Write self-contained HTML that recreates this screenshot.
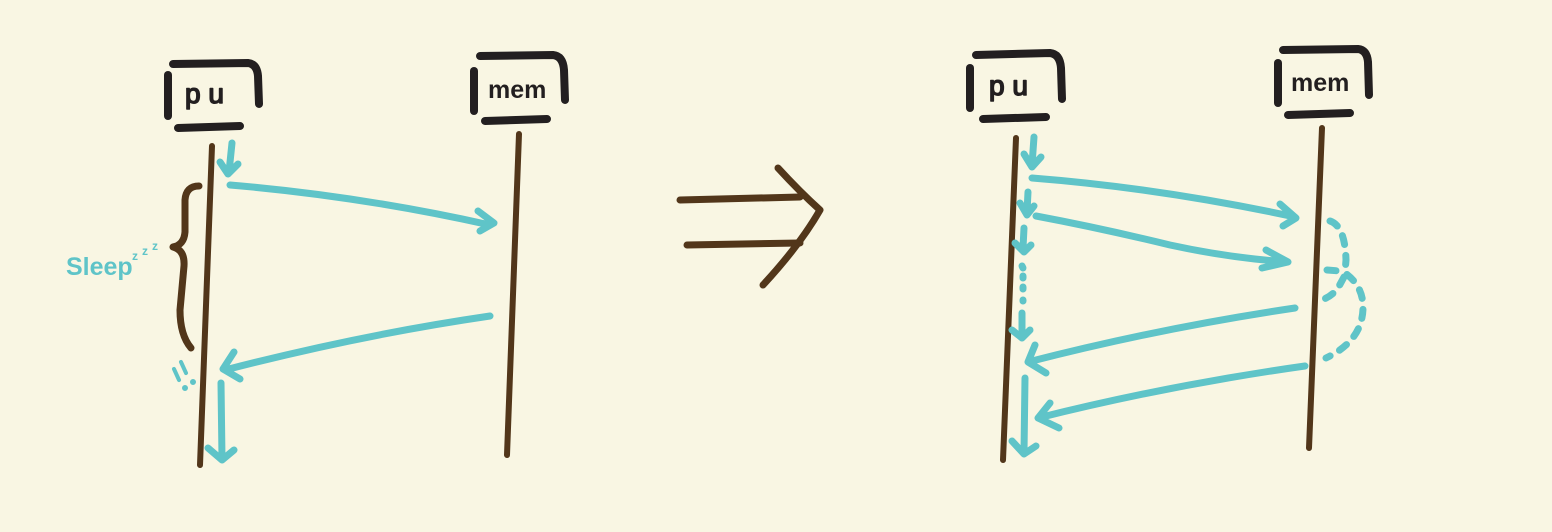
<!DOCTYPE html>
<html><head><meta charset="utf-8"><style>
html,body{margin:0;padding:0;background:#f9f6e3;}
svg{display:block;}
</style></head><body>
<svg width="1552" height="532" viewBox="0 0 1552 532" xmlns="http://www.w3.org/2000/svg">
<rect width="1552" height="532" fill="#f9f6e3"/>
<g fill="none" stroke-linecap="round" stroke-linejoin="round">
 <g stroke="#231f20" stroke-width="8">
  <path d="M173,64 L248,63 Q257,64 258,76 L259,104"/>
  <path d="M168,75 L168,116"/>
  <path d="M178,128 L240,126"/>
 </g>
 <text x="185" y="103" font-family="Liberation Sans, sans-serif" font-size="28" fill="#231f20" stroke="#231f20" stroke-width="1.5">p u</text>
 <g stroke="#231f20" stroke-width="8">
  <path d="M480,56 L553,55 Q563,56 564,70 L565,100"/>
  <path d="M474,71 L474,111"/>
  <path d="M485,121 L547,119"/>
 </g>
 <text x="488" y="98" font-family="Liberation Sans, sans-serif" font-size="25" font-weight="bold" fill="#231f20">mem</text>
 <path d="M212,146 L200,465" stroke="#52361a" stroke-width="6"/>
 <path d="M519,134 L507,455" stroke="#52361a" stroke-width="6"/>
 <path d="M199,186 Q186,186 185,200 L185,232 Q184,245 173,247 Q185,250 184,266 L180,310 Q180,335 191,348" stroke="#52361a" stroke-width="7"/>
 <g stroke="#5fc4c8" stroke-width="7">
  <path d="M232,143 L229,172 M220,162 L228,174 L238,164"/>
  <path d="M230,185 Q360,196 490,225 M478,211 L494,223 L480,231"/>
  <path d="M490,316 Q360,335 225,370 M234,352 L223,369 L240,379"/>
  <path d="M221,383 L222,458 M208,448 L222,460 L234,450"/>
  <path d="M174,369 L179,380 M181,362 L186,373" stroke-width="4"/>
  <circle cx="185" cy="388" r="1.5" stroke-width="3"/>
  <circle cx="193" cy="382" r="1.5" stroke-width="3"/>
 </g>
 <text x="66" y="275" font-family="Liberation Sans, sans-serif" font-size="25" font-weight="bold" fill="#5fc4c8">Sleep</text>
 <text font-family="Liberation Sans, sans-serif" font-size="12" font-weight="bold" fill="#5fc4c8"><tspan x="132" y="260">z</tspan><tspan x="142" y="255">z</tspan><tspan x="152" y="250">z</tspan></text>
 <g stroke="#52361a" stroke-width="7">
  <path d="M680,200 L800,197"/>
  <path d="M687,245 L800,243"/>
  <path d="M778,168 Q800,192 820,210 Q800,245 763,285"/>
 </g>
 <g stroke="#231f20" stroke-width="8">
  <path d="M976,55 L1050,53 Q1060,54 1061,68 L1062,99"/>
  <path d="M970,68 L970,108"/>
  <path d="M983,119 L1046,117"/>
 </g>
 <text x="989" y="95" font-family="Liberation Sans, sans-serif" font-size="28" fill="#231f20" stroke="#231f20" stroke-width="1.5">p u</text>
 <g stroke="#231f20" stroke-width="8">
  <path d="M1283,50 L1358,49 Q1367,50 1368,62 L1369,95"/>
  <path d="M1278,63 L1278,103"/>
  <path d="M1288,115 L1350,113"/>
 </g>
 <text x="1291" y="91" font-family="Liberation Sans, sans-serif" font-size="25" font-weight="bold" fill="#231f20">mem</text>
 <path d="M1016,138 L1003,460" stroke="#52361a" stroke-width="6"/>
 <path d="M1322,128 L1309,448" stroke="#52361a" stroke-width="6"/>
 <g stroke="#5fc4c8" stroke-width="7">
  <path d="M1034,137 L1032,165 M1024,154 L1032,167 L1041,157"/>
  <path d="M1028,192 L1027,212 M1020,203 L1027,215 L1034,206"/>
  <path d="M1024,228 L1023,248 M1015,243 L1024,252 L1031,245"/>
  <path d="M1022,266 L1023,268 M1023,276 L1023,278 M1023,287 L1023,289 M1023,300 L1023,301"/>
  <path d="M1022,313 L1022,335 M1012,330 L1022,338 L1030,330"/>
  <path d="M1025,378 L1024,452 M1012,441 L1024,454 L1036,446"/>
  <path d="M1032,178 Q1160,188 1295,217 M1280,204 L1296,218 L1283,226"/>
  <path d="M1036,216 Q1100,228 1170,245 Q1230,258 1288,262 M1266,250 L1288,262 L1262,268"/>
  <path d="M1295,308 Q1160,328 1028,362 M1035,345 L1028,362 L1046,373"/>
  <path d="M1305,366 Q1170,385 1038,418 M1050,403 L1038,418 L1059,428"/>
 </g>
 <g stroke="#5fc4c8" stroke-width="7" stroke-dasharray="9 11">
  <path d="M1330,221 Q1345,226 1346,260 L1345,273 Q1362,285 1363,305 Q1364,340 1326,358"/>
  <path d="M1327,270 L1340,271 M1344,277 L1338,288 Q1332,296 1322,300"/>
 </g>
</g>
</svg>
</body></html>
